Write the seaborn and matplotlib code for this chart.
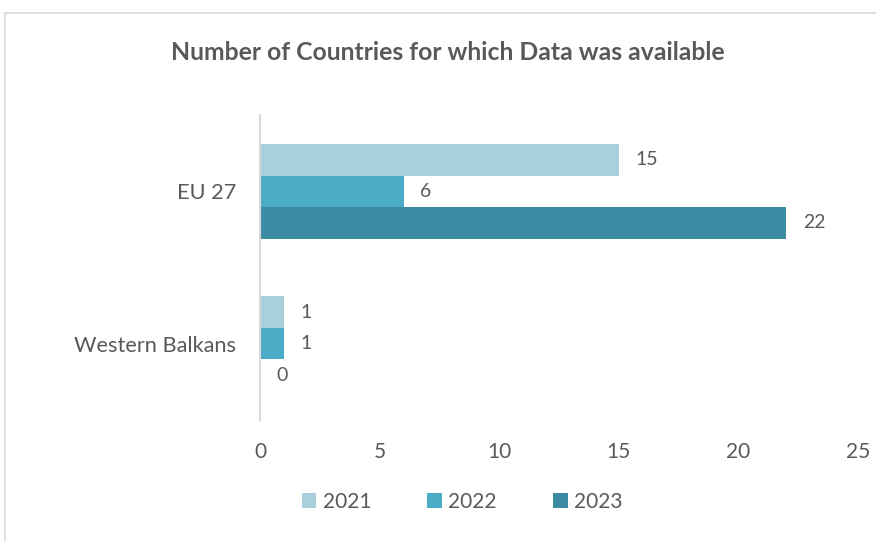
import pandas as pd
import matplotlib.pyplot as plt
import seaborn as sns
from matplotlib.patches import Rectangle

# Data
regions = ['EU 27', 'Western Balkans']
years = ['2021', '2022', '2023']
counts_2021 = [15, 1]
counts_2022 = [6, 1]
counts_2023 = [22, 0]
palette = ['#A9CEDC', '#4BACC6', '#3D8BA3']

df = pd.DataFrame({
    'region': regions * 3,
    'year': [y for y in years for _ in regions],
    'count': counts_2021 + counts_2022 + counts_2023,
})

sns.set_style('white')
plt.rcParams['font.family'] = ['Lato', 'DejaVu Sans']
text_col = '#595959'

fig = plt.figure(figsize=(8.76, 5.41), dpi=100)
ax = fig.add_axes([0.2968, 0.2237, 0.6827, 0.5637])

sns.barplot(data=df, y='region', x='count', hue='year', order=regions,
            hue_order=years, palette=palette, width=0.62, orient='h',
            saturation=1, linewidth=0, ax=ax)

for cont in ax.containers:
    ax.bar_label(cont, padding=12, fontsize=14, color=text_col)

ax.set_xlim(0, 25)
ax.set_ylim(1.5, -0.5)
ax.set_xticks(range(0, 26, 5))
ax.set_xlabel('')
ax.set_ylabel('')
ax.tick_params(axis='both', length=0, labelsize=15, colors=text_col)
ax.tick_params(axis='x', pad=16)
ax.tick_params(axis='y', labelsize=15.7, pad=17)
for s in ['top', 'right', 'bottom']:
    ax.spines[s].set_visible(False)
ax.spines['left'].set_color('#D9D9D9')
ax.spines['left'].set_linewidth(1.5)

fig.suptitle('Number of Countries for which Data was available', x=0.511, y=0.925,
             fontsize=17.8, fontweight='bold', color=text_col)

ax.legend_.remove()
handles, labels = ax.get_legend_handles_labels()
leg = fig.legend(handles, labels, loc='center', bbox_to_anchor=(462 / 876, 1 - 502 / 541),
                 ncol=3, frameon=False, fontsize=15, handlelength=0.7, handleheight=0.7,
                 columnspacing=2.7, handletextpad=0.3)
for t in leg.get_texts():
    t.set_color(text_col)

# outer chart frame
fig.patches.append(Rectangle((5 / 876, -0.01), 1.0, 1 - 13 / 541 + 0.01,
                             transform=fig.transFigure, fill=False,
                             edgecolor='#D9D9D9', linewidth=1.2))

plt.savefig('out.png', dpi=100)
